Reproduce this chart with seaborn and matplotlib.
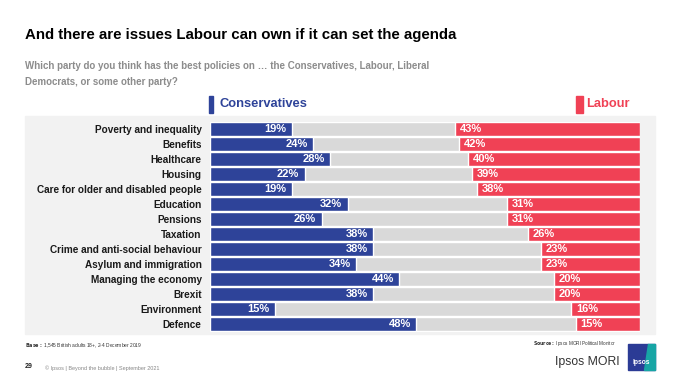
import matplotlib
matplotlib.use("Agg")
import matplotlib.pyplot as plt
import matplotlib.patches as mpatches
import pandas as pd
import seaborn as sns

issues = [
    "Poverty and inequality", "Benefits", "Healthcare", "Housing",
    "Care for older and disabled people", "Education", "Pensions", "Taxation",
    "Crime and anti-social behaviour", "Asylum and immigration",
    "Managing the economy", "Brexit", "Environment", "Defence",
]
conservatives = [19, 24, 28, 22, 19, 32, 26, 38, 38, 34, 44, 38, 15, 48]
labour = [43, 42, 40, 39, 38, 31, 31, 26, 23, 23, 20, 20, 16, 15]

BLUE = "#2e4399"
RED = "#f04155"
GREY_BAR = "#d9d9d9"
PANEL = "#f2f2f2"

sns.set_theme(style="white")
plt.rcParams["font.family"] = ["Liberation Sans", "DejaVu Sans"]

df = pd.DataFrame({"issue": issues, "con": conservatives, "lab": labour})
n = len(df)

W, H = 680, 383
fig = plt.figure(figsize=(W / 100, H / 100), dpi=100)
fig.patch.set_facecolor("white")

# grey panel behind the chart
fig.patches.append(mpatches.Rectangle((25 / W, 1 - 334 / H), 630 / W, 218 / H,
                                      transform=fig.transFigure, color=PANEL, zorder=-5))

ax = fig.add_axes([210 / W, 1 - 331.5 / H, 430 / W, 210 / H])
ax.set_zorder(2)
ax.set_facecolor("none")

sns.barplot(data=df, x="con", y="issue", color=BLUE, width=0.9, edgecolor="white",
            linewidth=1, saturation=1, ax=ax, zorder=2)
# full-width grey track for each row, then Labour from the right
ax.barh(range(n), 100, height=0.9, color=GREY_BAR, edgecolor="white", linewidth=1, zorder=1)
ax.barh(range(n), df["lab"], left=100 - df["lab"], height=0.9, color=RED,
        edgecolor="white", linewidth=1, zorder=2)

for i, (c, l) in enumerate(zip(df["con"], df["lab"])):
    ax.annotate(f"{c}%", (c, i), xytext=(-4, 0), textcoords="offset points",
                ha="right", va="center", color="white", fontsize=8, fontweight="bold", zorder=3)
    ax.annotate(f"{l}%", (100 - l, i), xytext=(3.5, 0), textcoords="offset points",
                ha="left", va="center", color="white", fontsize=8, fontweight="bold", zorder=3)

ax.set_xlim(0, 100)
ax.set_ylim(n - 0.5, -0.5)
ax.set_xlabel("")
ax.set_ylabel("")
ax.set_xticks([])
ax.set_yticks(range(n))
ax.set_yticklabels(issues, fontsize=7.2, fontweight="bold", color="#1a1a1a")
ax.tick_params(axis="y", length=0, pad=6)
sns.despine(ax=ax, left=True, bottom=True)

# title and subtitle
fig.text(25 / W, 1 - 35 / H, "And there are issues Labour can own if it can set the agenda",
         fontsize=10.8, fontweight="bold", color="black", va="center")
fig.text(25 / W, 1 - 74 / H,
         "Which party do you think has the best policies on \u2026 the Conservatives, Labour, Liberal\n"
         "Democrats, or some other party?",
         fontsize=7, fontweight="bold", color="#8c8c8c", va="center", linespacing=1.65)

# legend
fig.patches.append(mpatches.Rectangle((209 / W, 1 - 113 / H), 4 / W, 17 / H,
                                      transform=fig.transFigure, color=BLUE))
fig.text(219 / W, 1 - 104 / H, "Conservatives", fontsize=9.3, fontweight="bold",
         color=BLUE, va="center")
fig.patches.append(mpatches.Rectangle((576 / W, 1 - 113 / H), 7 / W, 17 / H,
                                      transform=fig.transFigure, color=RED))
fig.text(586 / W, 1 - 104 / H, "Labour", fontsize=9.3, fontweight="bold",
         color=RED, va="center")

# footer
fig.text(25 / W, 1 - 346 / H, r"$\bf{Base:}$ 1,545 British adults 18+, 2-4 December 2019",
         fontsize=3.5, color="#333333", va="center")
fig.text(25 / W, 1 - 367 / H, "29", fontsize=5, fontweight="bold", color="#222222", va="center")
fig.text(45 / W, 1 - 368 / H, "\u00a9 Ipsos | Beyond the bubble | September 2021",
         fontsize=4, color="#888888", va="center")
fig.text(533 / W, 1 - 343 / H, r"$\bf{Source:}$ Ipsos MORI Political Monitor",
         fontsize=3.3, color="#333333", va="center")
fig.text(555 / W, 1 - 362 / H, "Ipsos MORI", fontsize=8.8, color="#333333", va="center")

# logo
fig.patches.append(mpatches.Rectangle((628 / W, 1 - 370 / H), 27 / W, 26 / H,
                                      transform=fig.transFigure, color="#2b3b95"))
fig.patches.append(mpatches.Polygon([(648 / W, 1 - 344 / H), (655 / W, 1 - 344 / H),
                                     (655 / W, 1 - 370 / H), (644 / W, 1 - 370 / H)],
                                    closed=True, transform=fig.transFigure, color="#17a5a5"))
fig.text(641.5 / W, 1 - 363 / H, "Ipsos", fontsize=4.8, fontweight="bold", color="white",
         ha="center", va="center")

fig.savefig("out.png", dpi=100)
